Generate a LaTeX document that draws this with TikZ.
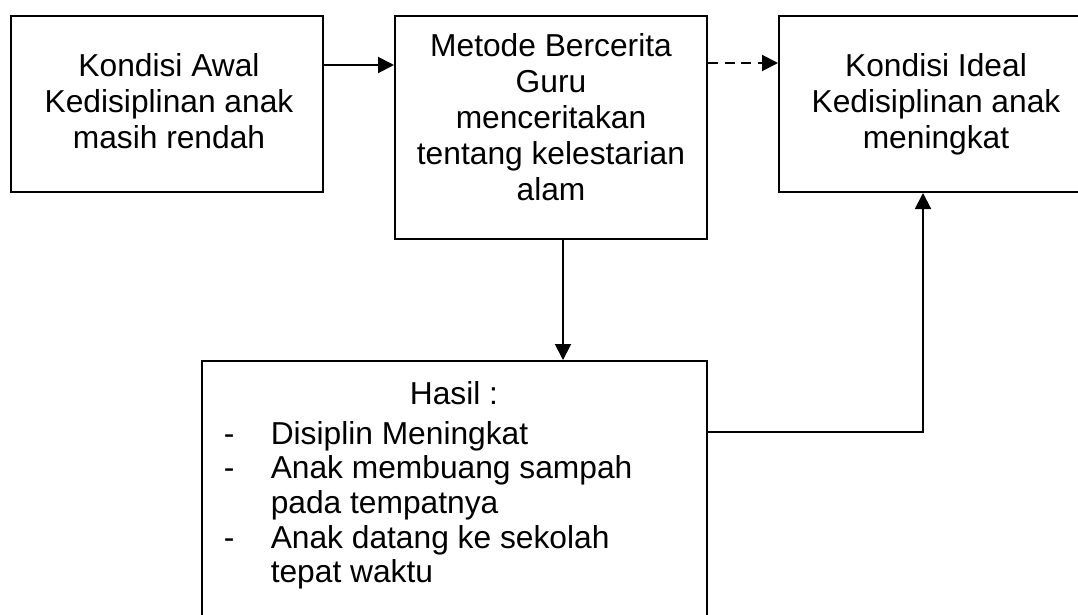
\documentclass[tikz,border=0pt]{standalone}
\usepackage{fontspec}
\setmainfont{Liberation Sans}
\usetikzlibrary{arrows.meta}
\tikzset{
  kotak/.style={draw, line width=1.5pt, inner sep=0pt},
  teks/.style={inner sep=0pt, align=center, font=\fontsize{23.8}{27}\selectfont},
  panah/.style={line width=1.5pt, -{Triangle[length=12pt, width=12pt]}},
}
\newcommand{\strip}{\makebox[35.25pt][l]{-}}
\newcommand{\sisip}{\hspace*{35.25pt}}

\begin{document}
\begin{tikzpicture}[x=0.75pt, y=-0.75pt]
\useasboundingbox (0,0) rectangle (1078,614);
\clip (0,0) rectangle (1078,614);

\node[kotak, minimum width=234pt, minimum height=132pt] (awal) at (167,104) {};
\node[kotak, minimum width=234pt, minimum height=167.25pt] (metode) at (551,127.5) {};
\node[kotak, minimum width=232.5pt, minimum height=132pt] (ideal) at (934,104) {};
\node[kotak, minimum width=378.75pt, minimum height=210pt] (hasil) at (454.5,501) {};

\node[teks, anchor=north] (awalteks) at (169,53) {Kondisi Awal\\Kedisiplinan anak\\masih rendah};
\node[teks, anchor=north] (metodeteks) at (551,33) {Metode Bercerita\\Guru\\menceritakan\\tentang kelestarian\\alam};
\node[teks, anchor=north] (idealteks) at (936,53) {Kondisi Ideal\\Kedisiplinan anak\\meningkat};
\node[teks, anchor=north] (hasilteks) at (454,381) {Hasil :};
\node[teks, align=left, anchor=north west, font=\fontsize{23.8}{26}\selectfont] (daftar) at (223.5,421) {\strip Disiplin Meningkat\\\strip Anak membuang sampah\\\sisip pada tempatnya\\\strip Anak datang ke sekolah\\\sisip tepat waktu};

\coordinate (ya) at (0,65);
\coordinate (yb) at (0,63);
\coordinate (xc) at (563,0);
\coordinate (xd) at (923,432);
\draw[panah] (awal.east |- ya) -- (metode.west |- ya);
\draw[panah, dash pattern=on 7.5pt off 5pt] (metode.east |- yb) -- (ideal.west |- yb);
\draw[panah] (metode.south -| xc) -- (hasil.north -| xc);
\draw[panah] (hasil.east |- xd) -| (ideal.south -| xd);
\end{tikzpicture}
\end{document}
